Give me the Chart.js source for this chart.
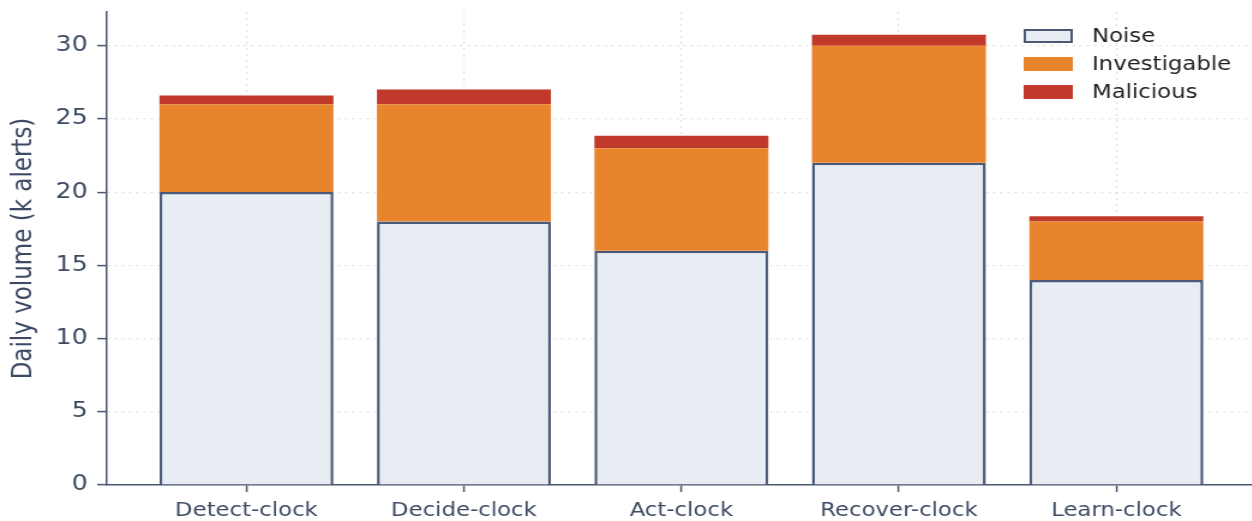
<!DOCTYPE html>
<html>
<head>
<meta charset="utf-8">
<script src="https://cdn.jsdelivr.net/npm/chart.js@4.4.1/dist/chart.umd.min.js"></script>
<style>
  html, body { margin: 0; padding: 0; background: #fff; overflow: hidden; }
  /* 원본 그림이 가로로 늘어난 형태라서 캔버스를 가로로 1.2배 늘림 */
  #wrap { width: 1043px; height: 521px; transform: scaleX(1.2); transform-origin: 0 0; }
</style>
</head>
<body>
<div id="wrap"><canvas id="myChart" width="1043" height="521"></canvas></div>
<script>
// 데이터
var categories = ['Detect-clock', 'Decide-clock', 'Act-clock', 'Recover-clock', 'Learn-clock'];
var noiseVals = [20, 18, 16, 22, 14];
var investVals = [6, 8, 7, 8, 4];
var maliciousVals = [0.6, 1.0, 0.85, 0.75, 0.35];
var yTicks = [0, 5, 10, 15, 20, 25, 30];

var axisColor = '#4a5670';
var gridColor = 'rgba(200,200,200,0.55)';
var textColor = '#3d4a63';

var toPoints = (arr) => arr.map((v, i) => ({ x: i, y: v }));

// 범례는 오른쪽 위에 직접 그림
var legendPlugin = {
  id: 'boxLegend',
  afterDraw: function(chart) {
    var ctx = chart.ctx;
    var x0 = 853, y0 = 29, rowH = 28;
    ctx.save();
    ctx.font = '19px "DejaVu Sans"';
    ctx.textBaseline = 'middle';
    chart.data.datasets.forEach(function(ds, i) {
      var y = y0 + i * rowH;
      ctx.fillStyle = ds.backgroundColor;
      ctx.fillRect(x0, y, 41, 14);
      if (ds.borderWidth) {
        ctx.strokeStyle = ds.borderColor;
        ctx.lineWidth = 2;
        ctx.strokeRect(x0 + 1, y + 1, 39, 12);
      }
      ctx.fillStyle = '#222';
      ctx.fillText(ds.label, 910, y + 8);
    });
    ctx.restore();
  }
};

var ctx = document.getElementById('myChart').getContext('2d');
var myChart = new Chart(ctx, {
  type: 'bar',
  data: {
    datasets: [
      { label: 'Noise', data: toPoints(noiseVals), backgroundColor: '#e8edf4', borderColor: '#4a5a78', borderWidth: 2.5 },
      { label: 'Investigable', data: toPoints(investVals), backgroundColor: '#e8842c', borderWidth: 0 },
      { label: 'Malicious', data: toPoints(maliciousVals), backgroundColor: '#c0392b', borderWidth: 0 }
    ]
  },
  options: {
    responsive: false,
    animation: false,
    barPercentage: 0.8,
    categoryPercentage: 1.0,
    layout: { padding: { top: 12, left: 0, right: 0, bottom: 0 } },
    plugins: {
      legend: { display: false },
      tooltip: { enabled: false }
    },
    scales: {
      x: {
        type: 'linear',
        stacked: true,
        offset: false,
        min: -0.642,
        max: 4.622,
        afterBuildTicks: function(scale) {
          scale.ticks = categories.map((c, i) => ({ value: i }));
        },
        afterFit: function(scale) {
          scale.height = 36;
          scale.paddingLeft = 0;
          scale.paddingRight = 0;
        },
        ticks: {
          callback: function(v) { return categories[v]; },
          color: textColor,
          font: { family: 'DejaVu Sans', size: 19 },
          padding: 8,
          maxRotation: 0,
          autoSkip: false
        },
        grid: {
          offset: false,
          color: gridColor,
          tickColor: axisColor,
          tickLength: 7,
          tickWidth: 1.5,
          lineWidth: 1.2
        },
        border: { color: axisColor, width: 1.5, dash: [2, 4] }
      },
      y: {
        stacked: true,
        min: 0,
        max: 32.3,
        afterBuildTicks: function(scale) {
          scale.ticks = yTicks.map(v => ({ value: v }));
        },
        afterFit: function(scale) {
          scale.width = 89;
          scale.paddingTop = 0;
          scale.paddingBottom = 0;
        },
        title: {
          display: true,
          text: 'Daily volume (k alerts)',
          color: textColor,
          font: { family: 'DejaVu Sans', size: 23 },
          padding: { top: 6, bottom: 2 }
        },
        ticks: {
          color: textColor,
          font: { family: 'DejaVu Sans', size: 21 },
          padding: 8
        },
        grid: {
          color: gridColor,
          tickColor: axisColor,
          tickLength: 8,
          tickWidth: 1.5,
          lineWidth: 1.2
        },
        border: { color: axisColor, width: 1.5, dash: [2, 4] }
      }
    }
  },
  plugins: [legendPlugin]
});
</script>
</body>
</html>
